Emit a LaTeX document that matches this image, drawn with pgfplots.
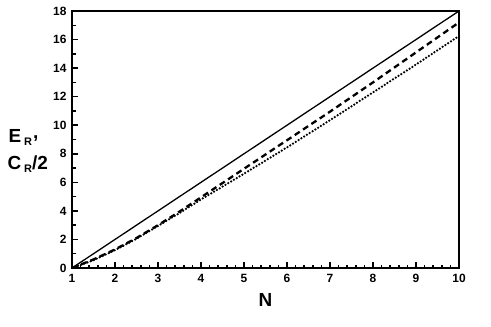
\documentclass[border=0pt]{standalone}
\usepackage{fontspec}
\setmainfont{Liberation Sans}
\usepackage{pgfplots}
\pgfplotsset{compat=1.18}
\usetikzlibrary{calc}
\begin{document}
\begin{tikzpicture}
\begin{axis}[
    name=ax,
    scale only axis,
    width=387bp, height=257bp,
    xmin=1, xmax=10, ymin=0, ymax=18,
    xtick={1,...,10}, ytick={0,2,...,18},
    minor x tick num=4, minor y tick num=1,
    tick align=inside,
    xtick pos=bottom, ytick pos=left,
    major tick length=6bp, minor tick length=3.5bp,
    axis line style={line width=2bp},
    every tick/.style={black, line width=1.5bp},
    tick label style={font=\fontsize{12}{13}\selectfont\bfseries},
    /pgf/number format/assume math mode=true,
    xticklabel style={yshift=-3bp},
    yticklabel style={xshift=-2bp},
    xlabel={N},
    xlabel style={font=\fontsize{19}{20}\selectfont\bfseries, yshift=-4bp},
]
\addplot[black, line width=1.3bp] coordinates {
    (1,0)(2,2)(3,4)(4,6)(5,8)(6,10)(7,12)(8,14)(9,16)(10,18)
};
\addplot[black, line width=2.3bp, dash pattern=on 6bp off 4bp] coordinates {
    (1,0)(1.5,0.6)(2,1.3)(2.5,2.1)(3,3.0)(3.5,3.95)(4,4.95)
    (5,6.95)(6,8.95)(7,10.95)(8,13.0)(9,15.1)(10,17.2)
};
\addplot[black, line width=2.5bp, dash pattern=on 0bp off 3.3bp, line cap=round] coordinates {
    (1,0)(1.5,0.55)(2,1.25)(2.5,2.05)(3,2.95)(3.5,3.85)(4,4.8)
    (5,6.6)(6,8.45)(7,10.35)(8,12.3)(9,14.25)(10,16.25)
};
\end{axis}
\node[anchor=base west, font=\fontsize{19}{20}\selectfont\bfseries, xshift=-67bp, yshift=125bp]
    at (ax.south west) {E\kern3bp\raisebox{-3bp}{\fontsize{11}{11}\selectfont R}\kern1bp\raisebox{4bp}{,}};
\node[anchor=base west, font=\fontsize{19}{20}\selectfont\bfseries, xshift=-68bp, yshift=98bp]
    at (ax.south west) {C\kern3bp\raisebox{-3bp}{\fontsize{11}{11}\selectfont R}/2};
\pgfresetboundingbox
\path ($(ax.south west)+(-72bp,-59bp)$) rectangle ($(ax.north east)+(32bp,11bp)$);
\end{tikzpicture}
\end{document}
